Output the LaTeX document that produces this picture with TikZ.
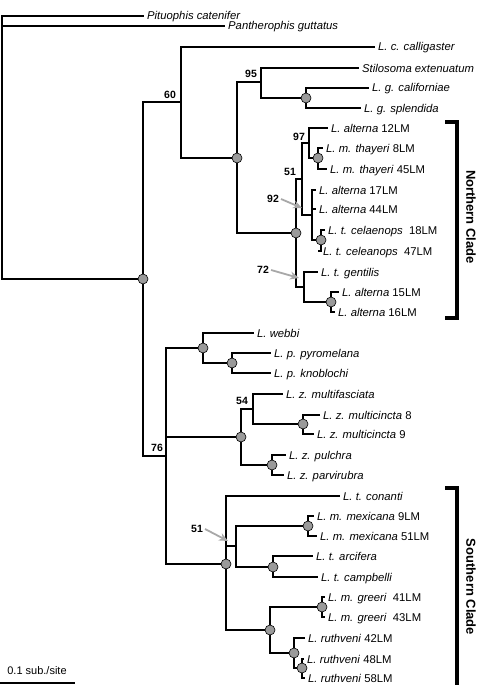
\documentclass[tikz,border=0pt]{standalone}
\usepackage{fontspec}
\setmainfont{Liberation Sans}
\usetikzlibrary{arrows.meta}
\definecolor{NodeGray}{HTML}{9A9A9A}
\definecolor{ArrowGray}{HTML}{A8A8A8}

\tikzset{
  branch/.style={line width=2pt, line cap=rect},
  taxon/.style={anchor=west, inner sep=0pt, xshift=4pt,
    text height=9.5pt, text depth=1.5pt, font=\fontsize{11.3}{13}\selectfont},
  support/.style={font=\bfseries\fontsize{10.5}{12}\selectfont, inner sep=0pt},
  dot/.style={circle, draw=black, line width=0.6pt, fill=NodeGray,
    minimum size=10pt, inner sep=0pt},
  pointer/.style={draw=ArrowGray, line width=1.8pt,
    -{Stealth[length=9pt, width=8pt]}},
  bracket/.style={line width=3.6pt},
  cladename/.style={rotate=-90, font=\bfseries\fontsize{13}{15}\selectfont, inner sep=0pt}
}

\newcommand{\taxon}[4]{%
  \coordinate (#1) at (#2,#3);
  \node[taxon] (#1-lab) at (#1) {#4};}

\begin{document}
\begin{tikzpicture}[x=1pt, y=-1pt]
  \useasboundingbox (0,0) rectangle (480,685);

  % internal nodes
  \coordinate (root) at (2,147);
  \coordinate (ing) at (143,279);
  \coordinate (n60) at (181,102);
  \coordinate (nA) at (237,158);
  \coordinate (n95) at (261,82);
  \coordinate (nG) at (306,98);
  \coordinate (nNorth) at (296,233);
  \coordinate (n51) at (302,179);
  \coordinate (n97) at (309,143);
  \coordinate (nThay) at (318,158);
  \coordinate (n92) at (312,215);
  \coordinate (nCel) at (321,240);
  \coordinate (n72) at (304,287);
  \coordinate (nAlt) at (331,302);
  \coordinate (n76) at (166,456);
  \coordinate (nW) at (203,348);
  \coordinate (nP) at (232,363);
  \coordinate (nZ) at (241,437);
  \coordinate (n54) at (253,409);
  \coordinate (nMc) at (303,424);
  \coordinate (nPul) at (272,465);
  \coordinate (nS) at (226,564);
  \coordinate (n51s) at (236,546);
  \coordinate (nMex) at (308,526);
  \coordinate (nT) at (273,567);
  \coordinate (nGR) at (270,630);
  \coordinate (nGre) at (322,607);
  \coordinate (nRuth) at (294,653);
  \coordinate (nRuth2) at (302,668);

  % tips
  \taxon{pit}{143}{16}{\textit{Pituophis catenifer}}
  \taxon{pan}{224}{26}{\textit{Pantherophis guttatus}}
  \taxon{cal}{374}{47}{\textit{L. c. calligaster}}
  \taxon{sti}{358}{68}{\textit{Stilosoma extenuatum}}
  \taxon{gca}{368}{88}{\textit{L. g. californiae}}
  \taxon{gsp}{360}{108}{\textit{L. g. splendida}}
  \taxon{a12}{327}{128}{\textit{L. alterna} 12LM}
  \taxon{th8}{322}{148}{\textit{L. m. thayeri} 8LM}
  \taxon{th45}{326}{169}{\textit{L. m. thayeri} 45LM}
  \taxon{a17}{315}{190}{\textit{L. alterna} 17LM}
  \taxon{a44}{315}{209}{\textit{L. alterna} 44LM}
  \taxon{ce18}{324}{230}{\textit{L. t. celaenops}\ \ 18LM}
  \taxon{ce47}{319}{251}{\textit{L. t. celeanops}\ \ 47LM}
  \taxon{gen}{317}{272}{\textit{L. t. gentilis}}
  \taxon{a15}{338}{292}{\textit{L. alterna} 15LM}
  \taxon{a16}{334}{312}{\textit{L. alterna} 16LM}
  \taxon{web}{253}{333}{\textit{L. webbi}}
  \taxon{pyr}{270}{353}{\textit{L. p. pyromelana}}
  \taxon{kno}{270}{373}{\textit{L. p. knoblochi}}
  \taxon{zmf}{282}{394}{\textit{L. z. multifasciata}}
  \taxon{zm8}{319}{415}{\textit{L. z. multicincta} 8}
  \taxon{zm9}{313}{434}{\textit{L. z. multicincta} 9}
  \taxon{zpu}{285}{455}{\textit{L. z. pulchra}}
  \taxon{zpa}{283}{475}{\textit{L. z. parvirubra}}
  \taxon{con}{339}{496}{\textit{L. t. conanti}}
  \taxon{mx9}{313}{516}{\textit{L. m. mexicana} 9LM}
  \taxon{mx51}{316}{536}{\textit{L. m. mexicana} 51LM}
  \taxon{arc}{312}{556}{\textit{L. t. arcifera}}
  \taxon{cam}{317}{577}{\textit{L. t. campbelli}}
  \taxon{gr41}{324}{597}{\textit{L. m. greeri}\ \ 41LM}
  \taxon{gr43}{324}{617}{\textit{L. m. greeri}\ \ 43LM}
  \taxon{r42}{304}{638}{\textit{L. ruthveni} 42LM}
  \taxon{r48}{303}{659}{\textit{L. ruthveni} 48LM}
  \taxon{r58}{304}{678}{\textit{L. ruthveni} 58LM}

  % branches
  \foreach \a/\b in {root/pit, root/pan, root/ing,
      ing/n60, ing/n76,
      n60/cal, n60/nA, nA/n95, nA/nNorth,
      n95/sti, n95/nG, nG/gca, nG/gsp,
      nNorth/n51, nNorth/n72, n51/n97, n51/n92,
      n97/a12, n97/nThay, nThay/th8, nThay/th45,
      n92/a17, n92/a44, n92/nCel, nCel/ce18, nCel/ce47,
      n72/gen, n72/nAlt, nAlt/a15, nAlt/a16,
      n76/nW, n76/nZ, n76/nS,
      nW/web, nW/nP, nP/pyr, nP/kno,
      nZ/n54, nZ/nPul, n54/zmf, n54/nMc, nMc/zm8, nMc/zm9,
      nPul/zpu, nPul/zpa,
      nS/con, nS/n51s, nS/nGR,
      n51s/nMex, n51s/nT, nMex/mx9, nMex/mx51, nT/arc, nT/cam,
      nGR/nGre, nGR/nRuth, nGre/gr41, nGre/gr43,
      nRuth/r42, nRuth/nRuth2, nRuth2/r48, nRuth2/r58}
    \draw[branch] (\a) |- (\b);

  % well supported nodes
  \foreach \n in {ing, nA, nG, nThay, nNorth, nCel, nAlt, nW, nP, nZ,
      nMc, nPul, nS, nMex, nT, nGR, nGre, nRuth, nRuth2}
    \node[dot] (\n-dot) at (\n) {};

  % bootstrap values
  \node[support] (b60) at (170,95) {60};
  \node[support] (b95) at (251,74) {95};
  \node[support] (b97) at (299,137) {97};
  \node[support] (b51) at (290,172) {51};
  \node[support] (b92) at (273,199) {92};
  \node[support] (b72) at (263,270) {72};
  \node[support] (b76) at (157,448) {76};
  \node[support] (b54) at (242,401) {54};
  \node[support] (b51s) at (197,529) {51};

  \coordinate (p92) at (302,208);
  \coordinate (p72) at (299,278);
  \coordinate (p51s) at (228,541);
  \draw[pointer] (b92.east) ++(2,0) -- (p92);
  \draw[pointer] (b72.east) ++(2,0) -- (p72);
  \draw[pointer] (b51s.east) ++(2,0) -- (p51s);

  % clades
  \coordinate (nc-top) at (445,122);
  \coordinate (nc-bot) at (445,318);
  \draw[bracket] (nc-top) -| (457,318) -- (nc-bot);
  \node[cladename] (north) at (471,217) {Northern Clade};
  \coordinate (sc-top) at (445,488);
  \coordinate (sc-bot) at (457,690);
  \draw[bracket] (sc-top) -| (sc-bot);
  \node[cladename] (south) at (471,587) {Southern Clade};

  % scale
  \coordinate (sb-l) at (0,683);
  \coordinate (sb-r) at (75,683);
  \draw[line width=2pt] (sb-l) -- (sb-r);
  \node[font=\fontsize{11}{13}\selectfont, inner sep=0pt] (sb-lab) at (37,671) {0.1 sub./site};
\end{tikzpicture}
\end{document}
